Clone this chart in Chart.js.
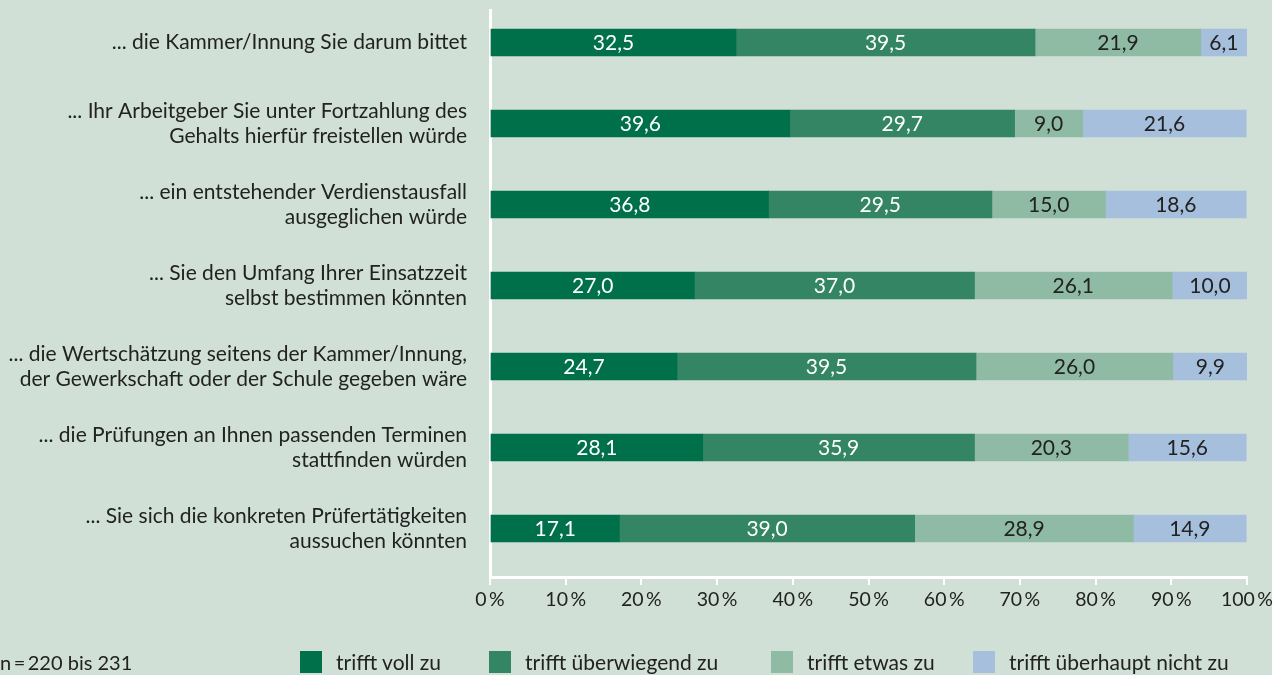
<!DOCTYPE html>
<html lang="de">
<head>
<meta charset="utf-8">
<script src="https://cdn.jsdelivr.net/npm/chart.js@4"></script>
<style>
  html, body { margin: 0; padding: 0; background: #d1e0d6; }
  body { width: 1272px; height: 675px; position: relative; overflow: hidden; font-family: Lato, sans-serif; color: #222; }
  #wrap { position: absolute; left: 0; top: 0; width: 1272px; height: 675px; }
  .note { position: absolute; left: 0; top: 649px; font-size: 20px; line-height: 26px; }
  .item { position: absolute; top: 649px; display: flex; align-items: center; font-size: 21px; line-height: 26px; white-space: nowrap; }
  .box { width: 22px; height: 22px; margin-right: 14px; }
</style>
</head>
<body>
<div id="wrap"><canvas id="grafico"></canvas></div>
<div class="note">n&#8201;=&#8201;220 bis 231</div>
<div id="legend"></div>
<script>
const categorias = [
  ['... die Kammer/Innung Sie darum bittet'],
  ['... Ihr Arbeitgeber Sie unter Fortzahlung des', 'Gehalts hierfür freistellen würde'],
  ['... ein entstehender Verdienstausfall', 'ausgeglichen würde'],
  ['... Sie den Umfang Ihrer Einsatzzeit', 'selbst bestimmen könnten'],
  ['... die Wertschätzung seitens der Kammer/Innung,', 'der Gewerkschaft oder der Schule gegeben wäre'],
  ['... die Prüfungen an Ihnen passenden Terminen', 'stattfinden würden'],
  ['... Sie sich die konkreten Prüfertätigkeiten', 'aussuchen könnten']
];

const voll        = [32.5, 39.6, 36.8, 27.0, 24.7, 28.1, 17.1];
const ueberwiegend = [39.5, 29.7, 29.5, 37.0, 39.5, 35.9, 39.0];
const etwas       = [21.9, 9.0, 15.0, 26.1, 26.0, 20.3, 28.9];
const nicht       = [6.1, 21.6, 18.6, 10.0, 9.9, 15.6, 14.9];

const xTicks = [0, 10, 20, 30, 40, 50, 60, 70, 80, 90, 100];

const serien = [
  { label: 'trifft voll zu', werte: voll, farbe: '#00704a', text: '#ffffff' },
  { label: 'trifft überwiegend zu', werte: ueberwiegend, farbe: '#338564', text: '#ffffff' },
  { label: 'trifft etwas zu', werte: etwas, farbe: '#8fbaa4', text: '#222222' },
  { label: 'trifft überhaupt nicht zu', werte: nicht, farbe: '#a5bfdc', text: '#222222' }
];

// Position der Legendeneinträge (px von links)
const legendeX = [300, 489, 771, 973];

const schrift = { family: 'Lato, sans-serif', size: 21 };

// Zahlen in die Balken schreiben
const wertePlugin = {
  id: 'werte',
  afterDatasetsDraw(chart) {
    const ctx = chart.ctx;
    ctx.save();
    ctx.font = schrift.size + 'px ' + schrift.family;
    ctx.textAlign = 'center';
    ctx.textBaseline = 'middle';
    chart.data.datasets.forEach((ds, i) => {
      const meta = chart.getDatasetMeta(i);
      meta.data.forEach((bar, j) => {
        const v = ds.data[j].x;
        ctx.fillStyle = serien[i].text;
        ctx.fillText(v.toFixed(1).replace('.', ','), (bar.x + bar.base) / 2, bar.y + 1);
      });
    });
    ctx.restore();
  }
};

const ctx = document.getElementById('grafico').getContext('2d');

const grafico = new Chart(ctx, {
  type: 'bar',
  data: {
    datasets: serien.map(s => ({
      label: s.label,
      data: s.werte.map((v, i) => ({ x: v, y: i })),
      backgroundColor: s.farbe,
      borderWidth: 0,
      barThickness: 27,
      stack: 'a'
    }))
  },
  plugins: [wertePlugin],
  options: {
    indexAxis: 'y',
    responsive: true,
    maintainAspectRatio: false,
    animation: false,
    layout: { padding: { top: 10, right: 25, bottom: 58, left: 0 } },
    plugins: {
      legend: { display: false },
      tooltip: { enabled: false }
    },
    scales: {
      x: {
        stacked: true,
        min: 0,
        max: 100,
        afterBuildTicks: (scale) => { scale.ticks = xTicks.map(v => ({ value: v })); },
        afterFit: (scale) => {
          scale.height = 40;
          scale.paddingLeft = 0;
          scale.paddingRight = 0;
        },
        border: { color: '#ffffff', width: 3 },
        grid: { drawOnChartArea: false, color: '#ffffff', lineWidth: 2, tickLength: 8 },
        ticks: {
          color: '#222',
          font: { family: schrift.family, size: 19.5 },
          padding: 3,
          maxRotation: 0,
          callback: (v) => v + '\u2009%'
        }
      },
      y: {
        type: 'linear',
        stacked: true,
        reverse: true,
        offset: false,
        bounds: 'data',
        min: -0.401,
        max: 6.599,
        afterBuildTicks: (scale) => { scale.ticks = categorias.map((c, i) => ({ value: i })); },
        afterFit: (scale) => {
          scale.width = 490;
          scale.paddingTop = 0;
          scale.paddingBottom = 0;
        },
        border: { color: '#ffffff', width: 3 },
        grid: { display: false, drawTicks: false, offset: false },
        ticks: {
          color: '#222',
          font: { family: schrift.family, size: 21, lineHeight: 1.2 },
          padding: 23,
          autoSkip: false,
          callback: (v) => categorias[v]
        }
      }
    }
  }
});

// Legende
const legende = document.getElementById('legend');
serien.forEach((s, i) => {
  const item = document.createElement('div');
  item.className = 'item';
  item.style.left = legendeX[i] + 'px';
  item.innerHTML = '<span class="box" style="background:' + s.farbe + '"></span><span>' + s.label + '</span>';
  legende.appendChild(item);
});
</script>
</body>
</html>
